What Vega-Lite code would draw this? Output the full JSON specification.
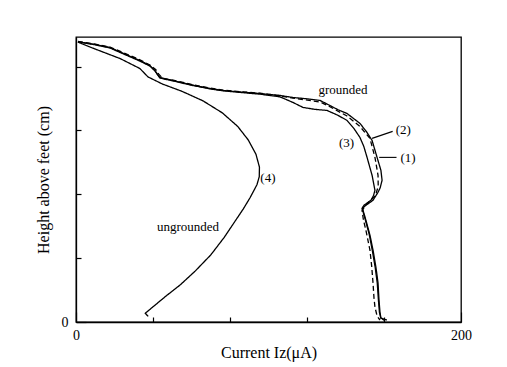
{
  "$schema": "https://vega.github.io/schema/vega-lite/v6.json",
  "width": 385,
  "height": 285,
  "autosize": "none",
  "padding": {"left": 76, "top": 37, "right": 46, "bottom": 45},
  "config": {
    "view": {"stroke": "black", "strokeWidth": 1.3},
    "axis": {"domainColor": "black", "domainWidth": 1.3, "grid": false, "labelColor": "black", "labelFont": "Liberation Serif", "labelFontSize": 14, "titleFont": "Liberation Serif", "titleFontSize": 16, "titleFontWeight": "normal", "titleColor": "black"}
  },
  "datasets": {
    "curves": [
      {"s":"4","o":1,"x":1.0,"y":175.3},{"s":"4","o":2,"x":8.8,"y":171.5},{"s":"4","o":3,"x":22.9,"y":165},{"s":"4","o":4,"x":33.2,"y":158.75},{"s":"4","o":5,"x":37.4,"y":153.5},{"s":"4","o":6,"x":45,"y":149},{"s":"4","o":7,"x":55,"y":144.5},{"s":"4","o":8,"x":66,"y":138.5},{"s":"4","o":9,"x":76,"y":131},{"s":"4","o":10,"x":84,"y":122.5},{"s":"4","o":11,"x":89.5,"y":114},{"s":"4","o":12,"x":93.5,"y":105},{"s":"4","o":13,"x":95.3,"y":97},{"s":"4","o":14,"x":95.2,"y":91},{"s":"4","o":15,"x":94,"y":86},{"s":"4","o":16,"x":90.5,"y":78},{"s":"4","o":17,"x":87,"y":71},{"s":"4","o":18,"x":82,"y":62},{"s":"4","o":19,"x":77,"y":53},{"s":"4","o":20,"x":70,"y":42},{"s":"4","o":21,"x":62,"y":32},{"s":"4","o":22,"x":54,"y":23.1},{"s":"4","o":23,"x":47,"y":16.5},{"s":"4","o":24,"x":41,"y":10.5},{"s":"4","o":25,"x":36,"y":5.5},{"s":"4","o":26,"x":37.5,"y":3.5},

      {"s":"1","o":1,"x":1.0,"y":175.5},{"s":"1","o":2,"x":10,"y":173.8},{"s":"1","o":3,"x":17.7,"y":171.9},{"s":"1","o":4,"x":26,"y":167.5},{"s":"1","o":5,"x":33.2,"y":163.75},{"s":"1","o":6,"x":38.4,"y":160.6},{"s":"1","o":7,"x":41.0,"y":157.5},{"s":"1","o":8,"x":42.1,"y":155.6},{"s":"1","o":9,"x":43.6,"y":153.1},{"s":"1","o":10,"x":50.4,"y":151.25},{"s":"1","o":11,"x":60,"y":148.5},{"s":"1","o":12,"x":69.6,"y":146.25},{"s":"1","o":13,"x":76.4,"y":145},{"s":"1","o":14,"x":86,"y":144},{"s":"1","o":15,"x":95.6,"y":143.1},{"s":"1","o":16,"x":106,"y":141.9},{"s":"1","o":17,"x":112.7,"y":140.6},{"s":"1","o":18,"x":120,"y":139.8},{"s":"1","o":19,"x":126.8,"y":138.75},{"s":"1","o":20,"x":131.9,"y":135.6},{"s":"1","o":21,"x":136,"y":133},{"s":"1","o":22,"x":140.8,"y":130.6},{"s":"1","o":23,"x":147.5,"y":124.4},{"s":"1","o":24,"x":151,"y":119},{"s":"1","o":25,"x":153.8,"y":113.75},{"s":"1","o":26,"x":156.4,"y":103.1},{"s":"1","o":27,"x":158.4,"y":95},{"s":"1","o":28,"x":159.0,"y":88.75},{"s":"1","o":29,"x":158,"y":84},{"s":"1","o":30,"x":156.9,"y":81.25},{"s":"1","o":31,"x":154.3,"y":76.25},{"s":"1","o":32,"x":150.6,"y":73.1},{"s":"1","o":33,"x":148.8,"y":71.25},{"s":"1","o":34,"x":150.6,"y":63.75},{"s":"1","o":35,"x":152.7,"y":54.4},{"s":"1","o":36,"x":154.3,"y":45},{"s":"1","o":37,"x":155.8,"y":34.4},{"s":"1","o":38,"x":156.9,"y":24.4},{"s":"1","o":39,"x":157.4,"y":13.75},{"s":"1","o":40,"x":157.9,"y":6.25},{"s":"1","o":41,"x":158.4,"y":2.5},{"s":"1","o":42,"x":160.5,"y":0.8},

      {"s":"3","o":1,"x":1.0,"y":175.5},{"s":"3","o":2,"x":10,"y":173.6},{"s":"3","o":3,"x":17.7,"y":171.6},{"s":"3","o":4,"x":26,"y":167.2},{"s":"3","o":5,"x":33.2,"y":163.4},{"s":"3","o":6,"x":38.4,"y":160.3},{"s":"3","o":7,"x":41.0,"y":157.3},{"s":"3","o":8,"x":42.1,"y":155.3},{"s":"3","o":9,"x":43.6,"y":152.8},{"s":"3","o":10,"x":50.4,"y":151},{"s":"3","o":11,"x":60,"y":148.3},{"s":"3","o":12,"x":69.6,"y":146},{"s":"3","o":13,"x":76.4,"y":144.8},{"s":"3","o":14,"x":86,"y":143.7},{"s":"3","o":15,"x":95.6,"y":142.7},{"s":"3","o":16,"x":106,"y":141},{"s":"3","o":17,"x":112.7,"y":137.5},{"s":"3","o":18,"x":117.9,"y":134.4},{"s":"3","o":19,"x":124,"y":133.2},{"s":"3","o":20,"x":130.4,"y":132.5},{"s":"3","o":21,"x":136,"y":129.5},{"s":"3","o":22,"x":140.8,"y":126.25},{"s":"3","o":23,"x":144.5,"y":121},{"s":"3","o":24,"x":147.5,"y":115.6},{"s":"3","o":25,"x":149.5,"y":110},{"s":"3","o":26,"x":151.2,"y":103.1},{"s":"3","o":27,"x":153.8,"y":91.9},{"s":"3","o":28,"x":155.3,"y":82.5},{"s":"3","o":29,"x":154.5,"y":79},{"s":"3","o":30,"x":153.2,"y":76.25},{"s":"3","o":31,"x":149.6,"y":73.1},{"s":"3","o":32,"x":148.6,"y":71.25},{"s":"3","o":33,"x":150.3,"y":64},{"s":"3","o":34,"x":152.3,"y":55},{"s":"3","o":35,"x":153.9,"y":45},{"s":"3","o":36,"x":155.4,"y":34.4},{"s":"3","o":37,"x":156.5,"y":24.4},{"s":"3","o":38,"x":157.1,"y":13.75},{"s":"3","o":39,"x":157.6,"y":6.25},{"s":"3","o":40,"x":158.3,"y":2.5},{"s":"3","o":41,"x":161.5,"y":1.2},

      {"s":"2","o":1,"x":1.0,"y":175.7},{"s":"2","o":2,"x":10,"y":174},{"s":"2","o":3,"x":17.7,"y":172.2},{"s":"2","o":4,"x":26,"y":168},{"s":"2","o":5,"x":33.2,"y":164.2},{"s":"2","o":6,"x":38.4,"y":161},{"s":"2","o":7,"x":41.5,"y":158},{"s":"2","o":8,"x":43,"y":155.2},{"s":"2","o":9,"x":45,"y":152.6},{"s":"2","o":10,"x":51,"y":151.4},{"s":"2","o":11,"x":60,"y":148.8},{"s":"2","o":12,"x":69.6,"y":146.5},{"s":"2","o":13,"x":76.4,"y":145.2},{"s":"2","o":14,"x":86,"y":144.2},{"s":"2","o":15,"x":95.6,"y":143.3},{"s":"2","o":16,"x":106,"y":141.6},{"s":"2","o":17,"x":112.7,"y":140.2},{"s":"2","o":18,"x":126.8,"y":137.8},{"s":"2","o":19,"x":131.9,"y":134.8},{"s":"2","o":20,"x":140.8,"y":129},{"s":"2","o":21,"x":147.5,"y":122.5},{"s":"2","o":22,"x":152.7,"y":115},{"s":"2","o":23,"x":155.3,"y":103.1},{"s":"2","o":24,"x":156.9,"y":91.9},{"s":"2","o":25,"x":157,"y":85},{"s":"2","o":26,"x":155.5,"y":79},{"s":"2","o":27,"x":151.5,"y":74.5},{"s":"2","o":28,"x":148.6,"y":70},{"s":"2","o":29,"x":149.3,"y":64},{"s":"2","o":30,"x":150.6,"y":57.5},{"s":"2","o":31,"x":152.7,"y":45},{"s":"2","o":32,"x":153.6,"y":35},{"s":"2","o":33,"x":154.3,"y":24.4},{"s":"2","o":34,"x":154.8,"y":15},{"s":"2","o":35,"x":155.3,"y":9.4},{"s":"2","o":36,"x":156.4,"y":3.75},{"s":"2","o":37,"x":157.9,"y":1.25}
    ],
    "labels": [
      {"t":"grounded","x":138.7,"y":145.6},
      {"t":"ungrounded","x":58.2,"y":59.4},
      {"t":"(3)","x":140.5,"y":112},
      {"t":"(4)","x":99.7,"y":90},
      {"t":"(2)","x":170,"y":120},
      {"t":"(1)","x":172.5,"y":103}
    ],
    "leaders": [
      {"x":153.8,"y":115,"x2":164.5,"y2":119.4},
      {"x":157.5,"y":103.1,"x2":166.5,"y2":103.1}
    ]
  },
  "layer": [
    {
      "data": {"name": "curves"},
      "mark": {"type": "line", "color": "black", "strokeWidth": 1.3, "interpolate": "linear"},
      "encoding": {
        "x": {"field": "x", "type": "quantitative", "scale": {"domain": [0, 200], "nice": false, "zero": false},
          "axis": {"orient": "bottom", "title": "Current  Iz(μA)", "values": [0,10,20,30,40,50,60,70,80,90,100,110,120,130,140,150,160,170,180,190,200],
            "labelExpr": "datum.value % 50 === 0 ? datum.label : ''", "tickColor": "black", "tickWidth": 1.2,
            "tickSize": {"condition": {"test": "datum.value % 50 === 0", "value": -10}, "value": -5}, "labelPadding": 16, "titlePadding": 2, "labelFlush": false}},
        "y": {"field": "y", "type": "quantitative", "scale": {"domain": [0, 178.5], "nice": false, "zero": false},
          "axis": {"orient": "left", "title": "Height above feet (cm)", "values": [0,5,10,15,20,25,30,35,40,45,50,55,60,65,70,75,80,85,90,95,100,105,110,115,120,125,130,135,140,145,150,155,160,165,170,175],
            "labelExpr": "datum.value % 25 === 0 ? datum.label : ''", "tickColor": "black", "tickWidth": 1.2,
            "tickSize": {"condition": {"test": "datum.value % 25 === 0", "value": -10}, "value": -5}, "labelPadding": 18, "titlePadding": 10, "labelFlush": false}},
        "detail": {"field": "s"},
        "order": {"field": "o", "type": "quantitative"},
        "strokeDash": {"field": "s", "type": "nominal", "scale": {"domain": ["1","2","3","4"], "range": [[1,0],[5,3],[1,0],[1,0]]}, "legend": null}
      }
    },
    {
      "data": {"name": "leaders"},
      "mark": {"type": "rule", "color": "black", "strokeWidth": 1.1},
      "encoding": {
        "x": {"field": "x", "type": "quantitative"},
        "y": {"field": "y", "type": "quantitative"},
        "x2": {"field": "x2"},
        "y2": {"field": "y2"}
      }
    },
    {
      "data": {"name": "labels"},
      "mark": {"type": "text", "font": "Liberation Serif", "fontSize": 13, "color": "black", "align": "center", "baseline": "middle"},
      "encoding": {
        "x": {"field": "x", "type": "quantitative"},
        "y": {"field": "y", "type": "quantitative"},
        "text": {"field": "t"}
      }
    }
  ]
}
